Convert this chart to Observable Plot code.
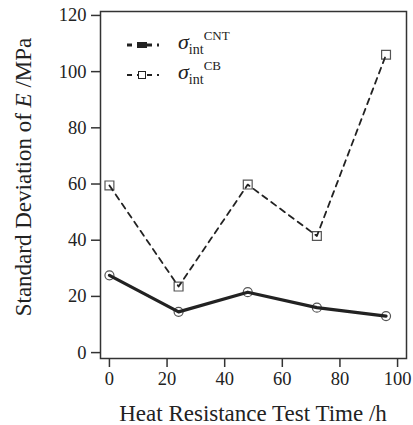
<!DOCTYPE html>
<html>
<head>
<meta charset="utf-8">
<script src="https://cdn.jsdelivr.net/npm/d3@7"></script>
<script src="https://cdn.jsdelivr.net/npm/@observablehq/plot@0.6"></script>
<style>
  html, body { margin: 0; padding: 0; background: #fff; }
  #chart svg { display: block; }
  #chart svg text { font-family: "Liberation Serif", "Times New Roman", Times, "DejaVu Serif", serif; }
</style>
</head>
<body>
<div id="chart"></div>
<script>
// ---- data ----
const times = [0, 24, 48, 72, 96];
const sigmaCNT = [27.5, 14.5, 21.5, 16.0, 13.0];
const sigmaCB = [59.5, 23.5, 59.8, 41.5, 106.0];
const xTicks = [0, 20, 40, 60, 80, 100];
const yTicks = [0, 20, 40, 60, 80, 100, 120];
const xTitle = "Heat Resistance Test Time /h";
const yTitleParts = ["Standard Deviation of ", "E", " /MPa"];

const cnt = times.map((t, i) => ({t, v: sigmaCNT[i]}));
const cb = times.map((t, i) => ({t, v: sigmaCB[i]}));

const ink = "#222";
const font = "Liberation Serif, Times New Roman, Times, DejaVu Serif, serif";

const chart = Plot.plot({
  width: 413,
  height: 425,
  marginLeft: 100,
  marginRight: 7,
  marginTop: 11,
  marginBottom: 67,
  style: { fontFamily: font, fontSize: "18px", color: ink, background: "#fff" },
  x: { domain: [-3.1, 103.1] },
  y: { domain: [-2.1, 121.4] },
  marks: [
    Plot.frame({ stroke: "#333", strokeWidth: 1.5 }),
    Plot.axisX(xTicks, { tickSize: 9, tickPadding: 4, label: null, stroke: "#333", strokeWidth: 1.5, fontSize: 18.5, fill: ink }),
    Plot.axisY(yTicks, { tickSize: 9, tickPadding: 5, label: null, stroke: "#333", strokeWidth: 1.5, fontSize: 18.5, fill: ink }),
    Plot.dot(cb, { x: "t", y: "v", symbol: "square", r: 5, stroke: "#555", strokeWidth: 1.2, fill: "white" }),
    Plot.dot(cnt, { x: "t", y: "v", symbol: "circle", r: 4.5, stroke: "#555", strokeWidth: 1.2, fill: "white" }),
    Plot.line(cb, { x: "t", y: "v", stroke: ink, strokeWidth: 1.8, strokeDasharray: "6,5" }),
    Plot.line(cnt, { x: "t", y: "v", stroke: ink, strokeWidth: 3.2 })
  ]
});

document.getElementById("chart").appendChild(chart);

// ---- titles and legend (annotations) ----
const svg = d3.select(chart);

svg.append("text")
  .attr("x", 253).attr("y", 421)
  .attr("text-anchor", "middle")
  .attr("font-size", 23).attr("fill", ink)
  .text(xTitle);

const yt = svg.append("text")
  .attr("transform", "translate(31,177) rotate(-90)")
  .attr("text-anchor", "middle")
  .attr("font-size", 23).attr("fill", ink);
yt.append("tspan").text(yTitleParts[0]);
yt.append("tspan").attr("font-style", "italic").text(yTitleParts[1]);
yt.append("tspan").text(yTitleParts[2]);

// legend
const legendItems = [
  { y: 45, sup: "CNT", width: 3.2, filled: true },
  { y: 75, sup: "CB", width: 1.8, filled: false }
];
legendItems.forEach(d => {
  svg.append("line")
    .attr("x1", 127).attr("x2", 159).attr("y1", d.y).attr("y2", d.y)
    .attr("stroke", ink).attr("stroke-width", d.width).attr("stroke-dasharray", "5,5");
  if (d.filled) {
    svg.append("rect").attr("x", 137).attr("y", d.y - 3).attr("width", 10).attr("height", 6).attr("fill", ink);
  } else {
    svg.append("rect").attr("x", 138.5).attr("y", d.y - 3.5).attr("width", 7).attr("height", 7)
      .attr("fill", "white").attr("stroke", ink).attr("stroke-width", 1);
  }
  const t = svg.append("text").attr("x", 178).attr("y", d.y + 4)
    .attr("text-anchor", "start")
    .attr("font-size", 22).attr("fill", ink);
  t.append("tspan").attr("font-style", "italic").text("σ");
  t.append("tspan").attr("font-size", 14).attr("dy", 5).text("int");
  t.append("tspan").attr("font-size", 13).attr("dy", -14).text(d.sup);
});
</script>
</body>
</html>
